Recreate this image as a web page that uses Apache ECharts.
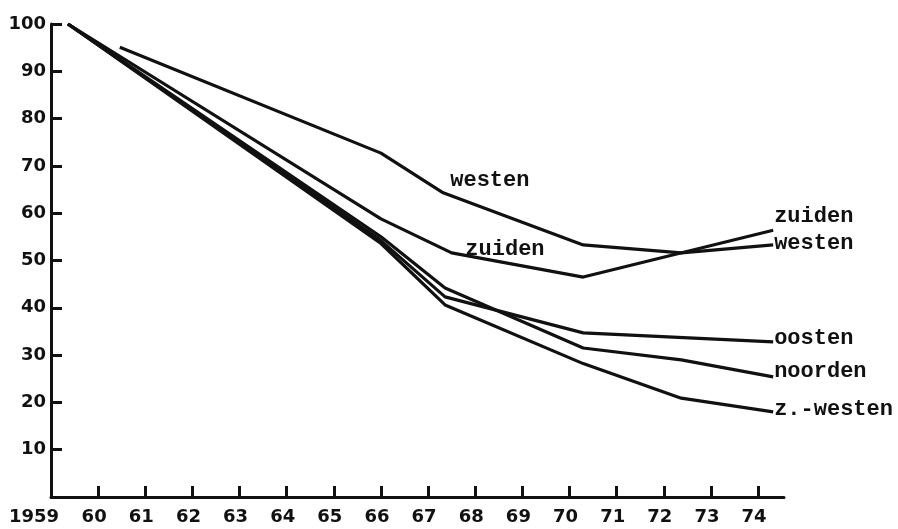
<!DOCTYPE html>
<html>
<head>
<meta charset="utf-8">
<script src="https://cdn.jsdelivr.net/npm/echarts@6/dist/echarts.min.js"></script>
<style>
  html, body { margin: 0; padding: 0; background: #fff; }
  #chart { width: 898px; height: 529px; }
</style>
</head>
<body>
<div id="chart"></div>
<script>
// jaartallen op de x-as
const yearTicks = [1959, 1960, 1961, 1962, 1963, 1964, 1965, 1966, 1967, 1968, 1969, 1970, 1971, 1972, 1973, 1974];

const westenYears = [1960.46, 1966, 1967.32, 1970.29, 1972.37, 1974.32];
const westenVals  = [95.1, 72.7, 64.3, 53.3, 51.6, 53.3];
const zuidenYears = [1959.36, 1966, 1967.5, 1970.29, 1974.32];
const zuidenVals  = [100, 58.8, 51.6, 46.5, 56.4];
const oostenYears = [1959.36, 1966, 1967.36, 1970.29, 1974.32];
const oostenVals  = [100, 54.2, 42.3, 34.7, 32.8];
const noordenYears = [1959.36, 1966, 1967.36, 1970.29, 1972.37, 1974.32];
const noordenVals  = [100, 55.0, 44.2, 31.5, 29.0, 25.4];
const zwestenYears = [1959.36, 1966, 1967.36, 1970.29, 1972.37, 1974.32];
const zwestenVals  = [100, 53.6, 40.6, 28.2, 20.9, 18.0];

const INK = '#111';
const monoFont = { fontFamily: 'Liberation Mono', fontWeight: 'bold', fontSize: 22, color: INK };
const tickFont = { fontFamily: 'DejaVu Sans', fontWeight: 'bold', fontSize: 18, color: INK };

function pairs(xs, ys) {
  return xs.map((x, i) => [x, ys[i]]);
}

function lineSeries(name, xs, ys, labelOffset, midLabel) {
  const s = {
    name: name,
    type: 'line',
    data: pairs(xs, ys),
    symbol: 'none',
    silent: true,
    animation: false,
    lineStyle: { color: INK, width: 3.2 },
    endLabel: {
      show: true,
      formatter: name,
      distance: 1,
      offset: [0, labelOffset],
      ...monoFont
    }
  };
  if (midLabel) {
    s.markPoint = {
      symbol: 'circle',
      symbolSize: 0,
      silent: true,
      animation: false,
      label: { show: true, position: 'inside', formatter: name, ...monoFont },
      data: [{ coord: midLabel }]
    };
  }
  return s;
}

const chart = echarts.init(document.getElementById('chart'));
chart.setOption({
  backgroundColor: '#fff',
  animation: false,
  grid: { left: 51, right: 114, top: 24, bottom: 32 },
  xAxis: {
    type: 'value',
    min: 1959,
    max: 1974.55,
    splitLine: { show: false },
    axisLine: { show: true, lineStyle: { color: INK, width: 3 } },
    axisTick: {
      show: true, inside: true, length: 11,
      customValues: yearTicks,
      lineStyle: { color: INK, width: 3 }
    },
    axisLabel: {
      customValues: yearTicks,
      margin: 11,
      padding: [0, 8, 0, 0],
      ...tickFont,
      formatter: v => (v === 1959 ? '{first|1959}' : String(v).slice(2)),
      rich: {
        first: { ...tickFont, padding: [0, 26, 0, 0] }
      }
    }
  },
  yAxis: {
    type: 'value',
    min: 0,
    max: 100,
    interval: 10,
    splitLine: { show: false },
    axisLine: { show: true, lineStyle: { color: INK, width: 3 } },
    axisTick: { show: true, inside: true, length: 11, lineStyle: { color: INK, width: 3 } },
    axisLabel: {
      margin: 5,
      ...tickFont,
      formatter: v => (v === 0 ? '' : String(v))
    }
  },
  series: [
    lineSeries('westen', westenYears, westenVals, -1, [1968.31, 67.0]),
    lineSeries('zuiden', zuidenYears, zuidenVals, -14, [1968.63, 52.4]),
    lineSeries('oosten', oostenYears, oostenVals, -3),
    lineSeries('noorden', noordenYears, noordenVals, -5),
    lineSeries('z.-westen', zwestenYears, zwestenVals, -2)
  ]
});
</script>
</body>
</html>
